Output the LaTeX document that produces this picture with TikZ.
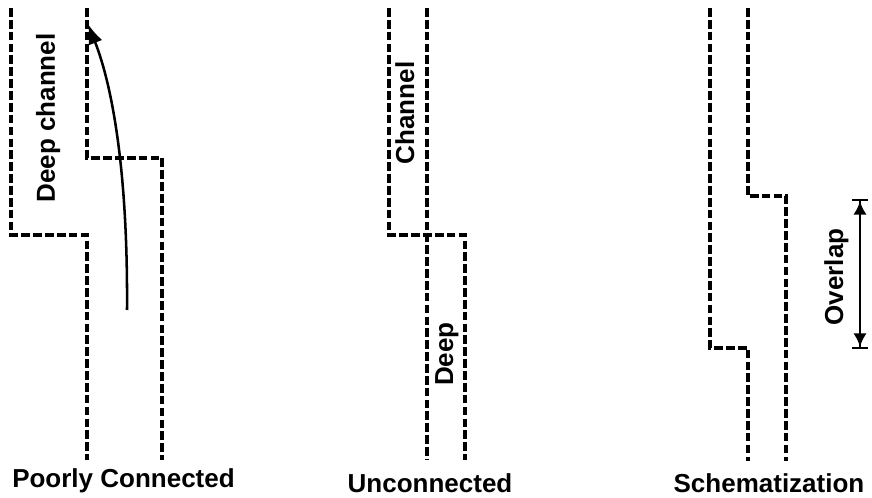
\documentclass[tikz,border=0pt]{standalone}
\usepackage{fontspec}
\setmainfont{Liberation Sans}
\usetikzlibrary{arrows.meta}

\begin{document}
\begin{tikzpicture}[x=0.75pt,y=-0.75pt,
  wall/.style={line width=2.4pt,dash pattern=on 6.5pt off 2.4pt},
  flow/.style={-{Latex[length=15pt,width=11pt]},line width=1.9pt},
  span/.style={{Bar[width=12pt]Latex[length=10pt,width=10pt]}-{Latex[length=10pt,width=10pt]Bar[width=12pt]},line width=1.7pt},
  lbl/.style={font=\fontsize{19.5}{22}\selectfont\bfseries,inner sep=0pt},
  vlbl/.style={lbl,rotate=90,anchor=base}]
\useasboundingbox (0,0) rectangle (872,498);
% poorly connected
\draw[wall] (11,8) -- (11,235) -- (87,235) -- (87,460);
\draw[wall] (87,8) -- (87,158) -- (162,158) -- (162,460);
\node[vlbl] (deepch) at (55,118) {Deep channel};
\coordinate (flowstart) at (127,310);
\coordinate (flowend) at (88,24);
\draw[flow] (flowstart) .. controls (128,170) and (112,85) .. (flowend);
\node[lbl,anchor=base] (poor) at (123.5,488) {Poorly Connected};
% unconnected
\draw[wall] (389,8) -- (389,235) -- (465,235) -- (465,460);
\draw[wall] (427,8) -- (427,460);
\node[vlbl] (chan) at (414,113) {Channel};
\node[vlbl] (deep) at (453,354) {Deep};
\node[lbl,anchor=base] (uncon) at (430,493) {Unconnected};
% schematization
\draw[wall] (710,8) -- (710,348) -- (748,348) -- (748,461);
\draw[wall] (748,8) -- (748,196) -- (786,196) -- (786,461);
\coordinate (ovtop) at (860,199);
\coordinate (ovbot) at (860,349);
\draw[span] (ovtop) -- (ovbot);
\node[vlbl] (overlap) at (843,277) {Overlap};
\node[lbl,anchor=base] (schem) at (769,493) {Schematization};
\end{tikzpicture}
\end{document}
